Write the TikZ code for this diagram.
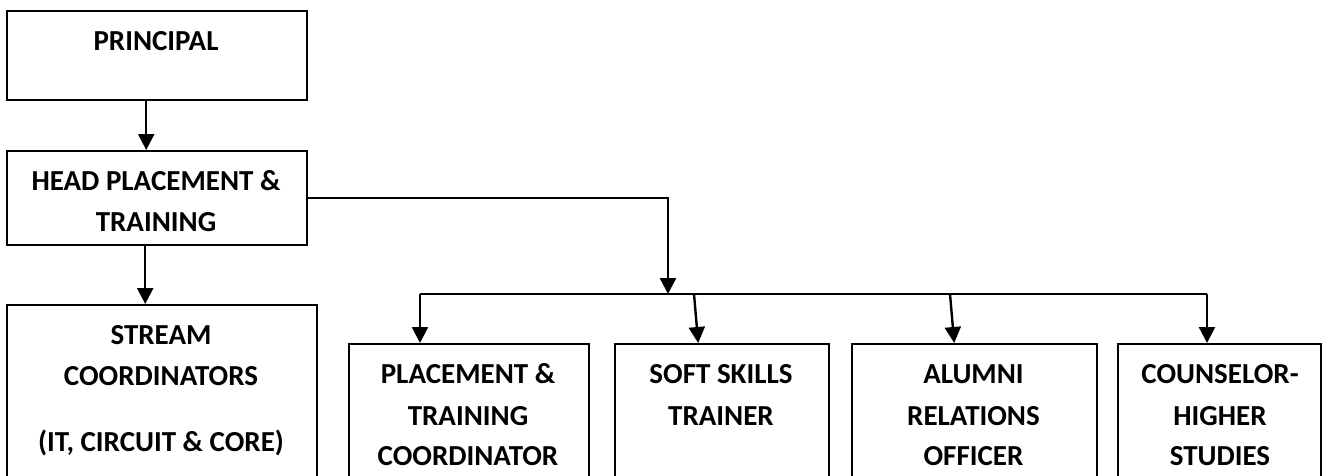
\documentclass[tikz,border=0pt]{standalone}
\usepackage{fontspec}
\setmainfont{Carlito}
\usetikzlibrary{arrows.meta}
\begin{document}
\begin{tikzpicture}[x=1pt,y=-1pt,
  box/.style={draw, line width=2.4pt, rectangle, anchor=north west, inner sep=0pt},
  lbl/.style={anchor=base, font=\fontsize{29}{34}\selectfont\bfseries, inner sep=0pt},
  conn/.style={line width=2.4pt, -{Triangle[width=16pt,length=16pt]}},
  wire/.style={line width=2.4pt}]
\useasboundingbox (0,0) rectangle (1322,475);
% boxes
\node[box, minimum width=300pt, minimum height=89pt] (prin) at (6,10) {};
\node[box, minimum width=300pt, minimum height=94pt] (head) at (6,150) {};
\node[box, minimum width=310pt, minimum height=190pt] (stream) at (6,304) {};
\node[box, minimum width=240pt, minimum height=150pt] (ptc) at (348,343) {};
\node[box, minimum width=214pt, minimum height=150pt] (sst) at (614,343) {};
\node[box, minimum width=245pt, minimum height=150pt] (aro) at (851,343) {};
\node[box, minimum width=203pt, minimum height=150pt] (chs) at (1117,343) {};
% labels
\node[lbl] (tprin) at (156,50) {PRINCIPAL};
\node[lbl] (thead1) at (156,190) {HEAD PLACEMENT \&};
\node[lbl] (thead2) at (156,231) {TRAINING};
\node[lbl] (ts1) at (161,344) {STREAM};
\node[lbl] (ts2) at (161,385) {COORDINATORS};
\node[lbl] (ts3) at (161,451) {(IT, CIRCUIT \& CORE)};
\node[lbl] (tp1) at (468,383) {PLACEMENT \&};
\node[lbl] (tp2) at (468,425) {TRAINING};
\node[lbl] (tp3) at (468,465) {COORDINATOR};
\node[lbl] (tss1) at (721,383) {SOFT SKILLS};
\node[lbl] (tss2) at (721,425) {TRAINER};
\node[lbl] (ta1) at (973.5,383) {ALUMNI};
\node[lbl] (ta2) at (973.5,425) {RELATIONS};
\node[lbl] (ta3) at (973.5,465) {OFFICER};
\node[lbl] (tc1) at (1220,383) {COUNSELOR-};
\node[lbl] (tc2) at (1220,425) {HIGHER};
\node[lbl] (tc3) at (1220,465) {STUDIES};
% bus coordinates
\coordinate (bj) at (668,294);
\coordinate (b1) at (420,294);
\coordinate (b2) at (694,294);
\coordinate (b3) at (950,294);
\coordinate (b4) at (1207,294);
% connectors
\draw[conn] ([xshift=-11pt]prin.south) -- ([xshift=-11pt]head.north);
\draw[conn] ([xshift=-12pt]head.south) -- ([xshift=-12pt]head.south |- stream.north);
\draw[conn] (head.east) -| (bj);
\draw[wire] (b1) -- (b4);
\draw[conn] (b1) -- (b1 |- ptc.north);
\draw[conn] (b2) -- ([xshift=-24pt]sst.north);
\draw[conn] (b3) -- ([xshift=-20.5pt]aro.north);
\draw[conn] (b4) -- (b4 |- chs.north);
\end{tikzpicture}
\end{document}
